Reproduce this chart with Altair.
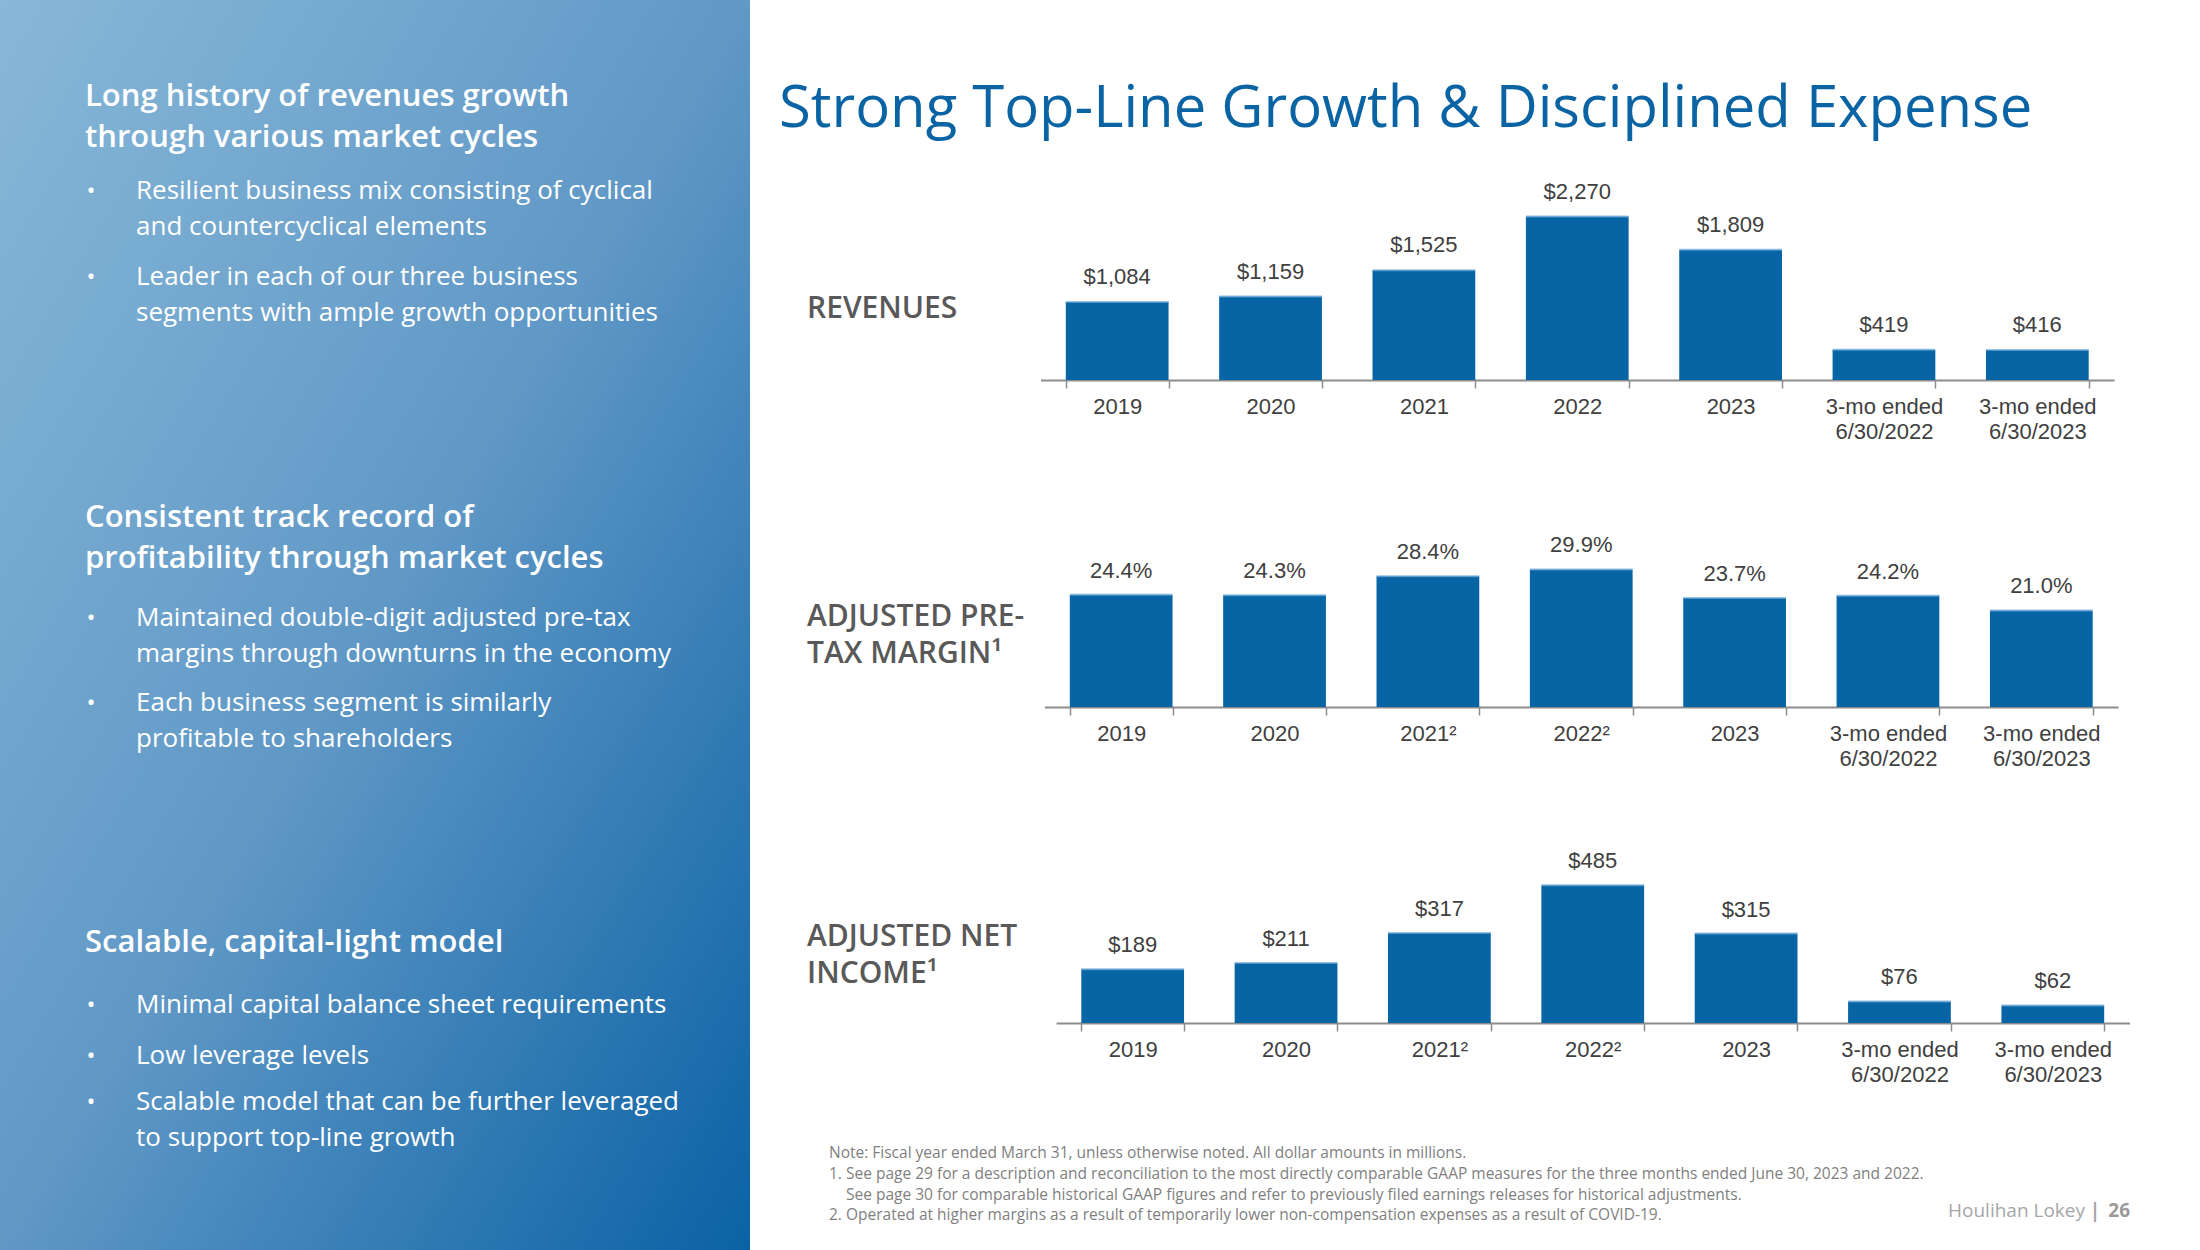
import altair as alt
import pandas as pd

W, H = 2200, 1250

# ---------------- data ----------------
rev_cats = ["2019", "2020", "2021", "2022", "2023", "3-mo ended|6/30/2022", "3-mo ended|6/30/2023"]
rev_vals = [1084, 1159, 1525, 2270, 1809, 419, 416]

mar_cats = ["2019", "2020", "2021²", "2022²", "2023", "3-mo ended|6/30/2022", "3-mo ended|6/30/2023"]
mar_vals = [24.4, 24.3, 28.4, 29.9, 23.7, 24.2, 21.0]

net_cats = ["2019", "2020", "2021²", "2022²", "2023", "3-mo ended|6/30/2022", "3-mo ended|6/30/2023"]
net_vals = [189, 211, 317, 485, 315, 76, 62]

BLUE = "#0765a6"
EDGE = "#6aa8d6"
GREY_TXT = "#404040"
AXIS_C = "#8c8c8c"
LBL = 22


def panel(cats, vals, label_expr, xr, yr, ydom, axis_y, label_dy):
    df = pd.DataFrame({"cat": cats, "val": vals})
    bw = (xr[1] - xr[0]) / len(cats) * 0.67
    base = alt.Chart(df).transform_calculate(lbl=label_expr).encode(
        x=alt.X(
            "cat:N",
            sort=cats,
            title=None,
            scale=alt.Scale(range=xr, paddingInner=0.33, paddingOuter=0.165),
            axis=alt.Axis(
                orient="bottom",
                offset=axis_y - H,
                domainColor=AXIS_C,
                domainWidth=2,
                tickColor=AXIS_C,
                tickWidth=1.5,
                tickSize=8,
                tickBand="extent",
                labelAngle=0,
                labelFont="Liberation Sans",
                labelFontSize=LBL,
                labelColor=GREY_TXT,
                labelPadding=8,
                labelLineHeight=25,
                labelExpr="split(datum.label, '|')",
                labelOverlap=False,
                labelLimit=400,
                grid=False,
                title=None,
            ),
        ),
        y=alt.Y(
            "val:Q",
            scale=alt.Scale(domain=ydom, range=yr, nice=False, zero=True),
            axis=None,
        ),
    )
    bars = base.mark_bar(color=BLUE)
    edge = base.mark_tick(color=EDGE, thickness=2, size=bw, orient="horizontal")
    labels = base.mark_text(
        dy=-label_dy, baseline="middle", font="Liberation Sans", fontSize=LBL, color=GREY_TXT
    ).encode(text="lbl:N")
    return alt.layer(bars, edge, labels)


rev = panel(rev_cats, rev_vals, "format(datum.val, '$,.0f')",
            [1040.5, 2114], [380, 200], [0, 2500], 380, 25)
mar = panel(mar_cats, mar_vals, "format(datum.val, '.1f') + '%'",
            [1044.5, 2118], [707, 546], [0, 35], 707, 24)
net = panel(net_cats, net_vals, "format(datum.val, '$,.0f')",
            [1056, 2129.5], [1023, 881], [0, 500], 1023, 24)

# ---------------- static text ----------------
one = pd.DataFrame({"k": [0]})


def txt(s, x, y, size, color="#ffffff", weight="normal", font="Open Sans",
        align="left", baseline="alphabetic", lh=None):
    kw = dict(text=s, fontSize=size, color=color, fontWeight=weight, font=font,
              align=align, baseline=baseline)
    if lh:
        kw["lineHeight"] = lh
    return alt.Chart(one).mark_text(**kw).encode(x=alt.value(x), y=alt.value(y))


bg = alt.Chart(one).mark_rect(
    fill=alt.LinearGradient(
        gradient="linear",
        stops=[
            alt.GradientStop(color="#88b8d8", offset=0),
            alt.GradientStop(color="#6098c6", offset=0.5),
            alt.GradientStop(color="#0a62a5", offset=1),
        ],
        x1=0, y1=0, x2=1, y2=1,
    )
).encode(x=alt.value(0), x2=alt.value(750), y=alt.value(0), y2=alt.value(H))

HEAD = 31
BUL = 26
TX = 136
BX = 91
BD = 24
NOTE = 15.5
NOTE_C = "#7f7f7f"

texts = [
    txt(["Long history of revenues growth", "through various market cycles"], 85, 106, HEAD, weight=600, lh=41),
    txt("•", BX, 199, BD, align="center"),
    txt(["Resilient business mix consisting of cyclical", "and countercyclical elements"], TX, 199, BUL, lh=36),
    txt("•", BX, 285, BD, align="center"),
    txt(["Leader in each of our three business", "segments with ample growth opportunities"], TX, 285, BUL, lh=36),

    txt(["Consistent track record of", "profitability through market cycles"], 85, 527, HEAD, weight=600, lh=41),
    txt("•", BX, 626, BD, align="center"),
    txt(["Maintained double-digit adjusted pre-tax", "margins through downturns in the economy"], TX, 626, BUL, lh=36),
    txt("•", BX, 711, BD, align="center"),
    txt(["Each business segment is similarly", "profitable to shareholders"], TX, 711, BUL, lh=36),

    txt("Scalable, capital-light model", 85, 952, HEAD, weight=600),
    txt("•", BX, 1013, BD, align="center"),
    txt("Minimal capital balance sheet requirements", TX, 1013, BUL),
    txt("•", BX, 1064, BD, align="center"),
    txt("Low leverage levels", TX, 1064, BUL),
    txt("•", BX, 1110, BD, align="center"),
    txt(["Scalable model that can be further leveraged", "to support top-line growth"], TX, 1110, BUL, lh=36),

    txt("Strong Top-Line Growth & Disciplined Expense", 779, 127, 58, color="#0a64a4"),

    txt("REVENUES", 807, 318, 30, color="#595959", weight=600),
    txt(["ADJUSTED PRE-", "TAX MARGIN¹"], 807, 626, 30, color="#595959", weight=600, lh=37),
    txt(["ADJUSTED NET", "INCOME¹"], 807, 946, 30, color="#595959", weight=600, lh=37),

    txt("Note: Fiscal year ended March 31, unless otherwise noted. All dollar amounts in millions.",
        829, 1158, NOTE, color=NOTE_C),
    txt("1.", 829, 1179, NOTE, color=NOTE_C),
    txt(["See page 29 for a description and reconciliation to the most directly comparable GAAP measures for the three months ended June 30, 2023 and 2022.",
         "See page 30 for comparable historical GAAP figures and refer to previously filed earnings releases for historical adjustments."],
        846, 1179, NOTE, color=NOTE_C, lh=20.5),
    txt("2.", 829, 1220, NOTE, color=NOTE_C),
    txt("Operated at higher margins as a result of temporarily lower non-compensation expenses as a result of COVID-19.",
        846, 1220, NOTE, color=NOTE_C),

    txt("Houlihan Lokey", 2085, 1217, 19, color="#a6a6a6", align="right"),
    txt("|", 2095, 1217, 19, color="#a6a6a6", weight="bold", align="center"),
    txt("26", 2130, 1217, 19, color="#9a9a9a", weight="bold", align="right"),
]

chart = (
    alt.layer(bg, *texts, rev, mar, net)
    .resolve_scale(x="independent", y="independent")
    .properties(width=W, height=H, autosize=alt.AutoSizeParams(type="none"),
                padding=0, background="white")
    .configure_view(stroke=None)
)

chart.save("out.html", embed_options={"renderer": "svg", "actions": False})
